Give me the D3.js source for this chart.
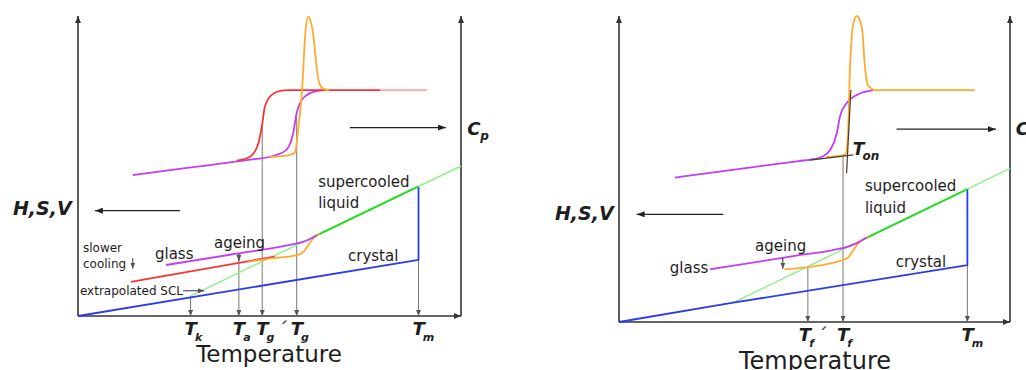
<!DOCTYPE html>
<meta charset="utf-8">
<script src="https://d3js.org/d3.v7.min.js"></script>
<style>
body { margin: 0; padding: 0; background: #fff; }
text { font-family: 'DejaVu Sans', Verdana, sans-serif; fill: #1e1e1e; }
.lbl { font-size: 15px; }
.small { font-size: 12px; }
.sym { font-weight: bold; font-style: italic; }
</style>
<body>
<div id="chart"></div>
</body>
<script>

// ---------- left panel (ageing, Tk / Ta / Tg' / Tg / Tm) ----------
// all values in arbitrary units: temperature 0..100, property 0..100
var leftTicks = [
  {sub: "k", prime: false, t: 29.4, from: 6.7},
  {sub: "a", prime: false, t: 42.0, from: 20.7},
  {sub: "g", prime: true,  t: 48.1, from: 63.1},
  {sub: "g", prime: false, t: 57.1, from: 66},
  {sub: "m", prime: false, t: 88.9, from: 18.7}
];
var leftCrystal   = [[0, 0], [88.9, 18.7], [88.9, 43]];
var leftScl       = [[29.4, 6.7], [100, 50]];
var leftSclSolid  = [[61.9, 26.6], [88.9, 43.2]];
var leftGlass     = [[23, 17], [40, 20.5], [55, 23.6], [58.5, 24.6], [60.5, 25.6], [62.5, 27]];
var leftSlowGlass = [[13.8, 11.4], [51.4, 19.8]];
var leftAged      = [[44.4, 18], [51, 19.3], [56.5, 20.1], [58.5, 21], [60, 23.3], [61.5, 26], [63, 27.5]];
var leftCpMagenta = [[14.3, 47], [30, 49.6], [46, 52.3], [50, 53], [52.5, 54], [54.5, 55.5], [56.2, 61], [57.1, 67.7], [58.4, 72], [60.6, 74.3], [64, 75.3]];
var leftCpRed     = [[41.5, 51.8], [44.9, 53.1], [47.1, 57.6], [48, 63.1], [48.8, 69.8], [50.6, 73.7], [53.6, 75.2], [56, 75.3], [78.9, 75.3]];
var leftCpRedFade = [[78.9, 75.3], [91.1, 75.3]];
var leftCpOrange  = [[50.1, 53], [55.4, 53.7], [56.7, 54.6], [57.3, 60], [58.5, 75.3], [59.4, 95], [60.1, 99.8], [60.8, 98], [61.4, 94], [62.3, 83], [63, 77.7], [64, 75.8], [65.5, 75.3]];

// ---------- right panel (Tf' / Tf / Tm, onset) ----------
var rightTicks = [
  {sub: "f", prime: true,  t: 48.3, from: 18.1},
  {sub: "f", prime: false, t: 57.3, from: 53.9},
  {sub: "m", prime: false, t: 89.1, from: 18.6}
];
var rightCrystal   = [[0, 0], [29.2, 6.3], [89.1, 18.6], [89.1, 43.4]];
var rightScl       = [[29.2, 6.3], [100, 50.2]];
var rightSclSolid  = [[63.4, 27.6], [89.1, 43.4]];
var rightGlass     = [[23.3, 17.2], [45, 21.6], [55, 23.6], [58, 24.4], [60.5, 25.6], [63.4, 27.6]];
var rightAged      = [[42.3, 17.2], [57.4, 20.3], [58.8, 21.3], [60.2, 24], [61.8, 26.5], [63.8, 27.8]];
var rightCpMagenta = [[14.3, 47.2], [30, 49.9], [46, 52.6], [49.7, 53.2], [51.8, 53.9], [54, 56.2], [55.7, 61.7], [56.5, 67.1], [58.2, 71.5], [60.8, 74.2], [65, 75.8]];
var rightCpOrange  = [[53, 53.9], [57.8, 54.6], [58.5, 60], [59.1, 83.4], [59.8, 96.5], [60.8, 100], [62.1, 96.5], [62.9, 83.4], [63.6, 77.5], [65.5, 75.8], [91, 75.8]];
var rightOnset     = [[[48.8, 52.9], [59.9, 54.6]], [[58.2, 48.6], [59.3, 75.8]]];

var W = 1026, H = 370;
var col = {
  magenta: "#c23df5", red: "#ff3030", redFade: "#ffa4a4", orange: "#ffab2e",
  green: "#22dd22", greenLight: "#8ef08e", blue: "#2a3cf0", axis: "#333", grey: "#777"
};

var svg = d3.select("#chart").append("svg")
  .attr("width", W)
  .attr("height", H);

var defs = svg.append("defs");
function marker(id, color, len, wid) {
  defs.append("marker")
    .attr("id", id)
    .attr("viewBox", "0 0 10 10")
    .attr("refX", 10).attr("refY", 5)
    .attr("markerUnits", "userSpaceOnUse")
    .attr("markerWidth", len).attr("markerHeight", wid)
    .attr("preserveAspectRatio", "none")
    .attr("orient", "auto")
    .append("path")
      .attr("d", "M0,0L10,5L0,10z")
      .attr("fill", color);
}
marker("axisHead", col.axis, 7, 6);
marker("greyHead", "#555", 6, 5);
marker("blackHead", "#222", 8, 6);

function drawPanel(cfg) {
  var g = svg.append("g");
  var x = d3.scaleLinear().domain([0, 100]).range([cfg.x0, cfg.x1]);
  var y = d3.scaleLinear().domain([0, 100]).range([cfg.y0, cfg.y1]);
  var smooth = d3.line().x(function(d) { return x(d[0]); }).y(function(d) { return y(d[1]); }).curve(d3.curveMonotoneX);
  var straight = d3.line().x(function(d) { return x(d[0]); }).y(function(d) { return y(d[1]); });

  function path(data, gen, color, w, head) {
    var p = g.append("path")
      .attr("d", gen(data))
      .attr("fill", "none")
      .attr("stroke", color)
      .attr("stroke-width", w)
      .attr("stroke-linejoin", "round");
    if (head) p.attr("marker-end", "url(#" + head + ")");
    return p;
  }

  // axes (no ticks, just arrows)
  path([[0, 0], [0, 100]], straight, col.axis, 1.6, "axisHead");
  path([[0, 0], [100, 0]], straight, col.axis, 1.6, "axisHead");
  path([[100, 0], [100, 100]], straight, col.axis, 1.6, "axisHead");

  // grey drop lines to the temperature axis
  cfg.ticks.forEach(function(d) {
    path([[d.t, d.from], [d.t, 0]], straight, col.grey, 1, "greyHead");
  });

  // H,S,V part
  path(cfg.scl, straight, col.greenLight, 1.5);
  path(cfg.crystal, straight, col.blue, 1.8);
  path(cfg.sclSolid, straight, col.green, 2);
  if (cfg.slowGlass) path(cfg.slowGlass, straight, col.red, 1.8);
  path(cfg.aged, smooth, col.orange, 1.8);
  path(cfg.glass, smooth, col.magenta, 1.8);

  // Cp part
  path(cfg.cpMagenta, smooth, col.magenta, 1.8);
  if (cfg.cpRed) {
    path(cfg.cpRed, smooth, col.red, 1.8);
    path(cfg.cpRedFade, straight, col.redFade, 1.8);
  }
  path(cfg.cpOrange, smooth, col.orange, 1.8);
  if (cfg.onset) cfg.onset.forEach(function(s) { path(s, straight, "#4a3a28", 1.2); });

  // direction arrows
  path(cfg.arrowLeft, straight, "#222", 1.3, "blackHead");
  path(cfg.arrowRight, straight, "#222", 1.3, "blackHead");
  cfg.smallArrows.forEach(function(s) { path(s, straight, "#333", 1, "greyHead"); });

  // tick labels
  cfg.ticks.forEach(function(d) {
    var t = g.append("text").attr("class", "sym")
      .attr("x", x(d.t) - 6 + (d.prime ? cfg.primeShift : 0))
      .attr("y", cfg.tickY)
      .style("font-size", "18px");
    t.append("tspan").text("T");
    t.append("tspan").attr("dx", -2).attr("dy", 6).style("font-size", "11px").text(d.sub);
    if (d.prime) t.append("tspan").attr("dx", 3).attr("dy", -6).style("font-weight", "normal").text("´");
  });

  g.append("text")
    .attr("x", cfg.titleX).attr("y", cfg.titleY)
    .attr("text-anchor", "middle")
    .style("font-size", cfg.titleSize)
    .text("Temperature");

  // axis names
  g.append("text").attr("class", "sym")
    .attr("x", x(cfg.hsv[0])).attr("y", y(cfg.hsv[1]))
    .style("font-size", "19px")
    .text("H,S,V");
  var cp = g.append("text").attr("class", "sym")
    .attr("x", x(cfg.cp[0])).attr("y", y(cfg.cp[1]))
    .style("font-size", "18px");
  cp.append("tspan").text("C");
  cp.append("tspan").attr("dy", 5).style("font-size", "12px").text("p");

  // annotations
  cfg.notes.forEach(function(n) {
    g.append("text")
      .attr("class", n.cls)
      .attr("x", x(n.at[0])).attr("y", y(n.at[1]))
      .text(n.text);
  });

  if (cfg.ton) {
    var ton = g.append("text").attr("class", "sym")
      .attr("x", x(cfg.ton[0])).attr("y", y(cfg.ton[1]))
      .style("font-size", "17px");
    ton.append("tspan").text("T");
    ton.append("tspan").attr("dx", -2).attr("dy", 5).style("font-size", "12px").text("on");
  }
}

drawPanel({
  x0: 78, x1: 461, y0: 316, y1: 16,
  ticks: leftTicks, crystal: leftCrystal, scl: leftScl, sclSolid: leftSclSolid,
  glass: leftGlass, slowGlass: leftSlowGlass, aged: leftAged,
  cpMagenta: leftCpMagenta, cpRed: leftCpRed, cpRedFade: leftCpRedFade, cpOrange: leftCpOrange,
  arrowLeft: [[26.6, 35.1], [4.4, 35.1]], arrowRight: [[71, 62.8], [96.1, 62.8]],
  smallArrows: [[[42, 20.7], [42, 18.3]], [[14.3, 19.3], [14.3, 15.8]], [[27.4, 8.4], [32.9, 8.4]]],
  tickY: 335, primeShift: 0, titleX: 269, titleY: 362, titleSize: "23px",
  hsv: [-17, 33.7], cp: [101.6, 60.3],
  notes: [
    {text: "supercooled", at: [62.7, 43], cls: "lbl"},
    {text: "liquid", at: [62.7, 36], cls: "lbl"},
    {text: "crystal", at: [70.5, 18.3], cls: "lbl"},
    {text: "glass", at: [20.1, 19], cls: "lbl"},
    {text: "ageing", at: [35.5, 22.7], cls: "lbl"},
    {text: "slower", at: [1.3, 21.3], cls: "small"},
    {text: "cooling", at: [1.3, 16], cls: "small"},
    {text: "extrapolated SCL", at: [0.5, 7], cls: "small"}
  ]
});

drawPanel({
  x0: 619, x1: 1010, y0: 322, y1: 16,
  ticks: rightTicks, crystal: rightCrystal, scl: rightScl, sclSolid: rightSclSolid,
  glass: rightGlass, aged: rightAged,
  cpMagenta: rightCpMagenta, cpOrange: rightCpOrange, onset: rightOnset,
  arrowLeft: [[26.7, 35.2], [4.5, 35.2]], arrowRight: [[71, 63], [96.4, 63]],
  smallArrows: [[[41.9, 20.9], [41.9, 17.4]]],
  tickY: 341, primeShift: -3, titleX: 815, titleY: 369, titleSize: "24px",
  hsv: [-16.4, 33.3], cp: [101.5, 61.1], ton: [59.8, 54.6],
  notes: [
    {text: "supercooled", at: [62.9, 42.9], cls: "lbl"},
    {text: "liquid", at: [62.9, 35.5], cls: "lbl"},
    {text: "crystal", at: [70.8, 18.1], cls: "lbl"},
    {text: "glass", at: [13, 16.1], cls: "lbl"},
    {text: "ageing", at: [34.8, 23.3], cls: "lbl"}
  ]
});

</script>
